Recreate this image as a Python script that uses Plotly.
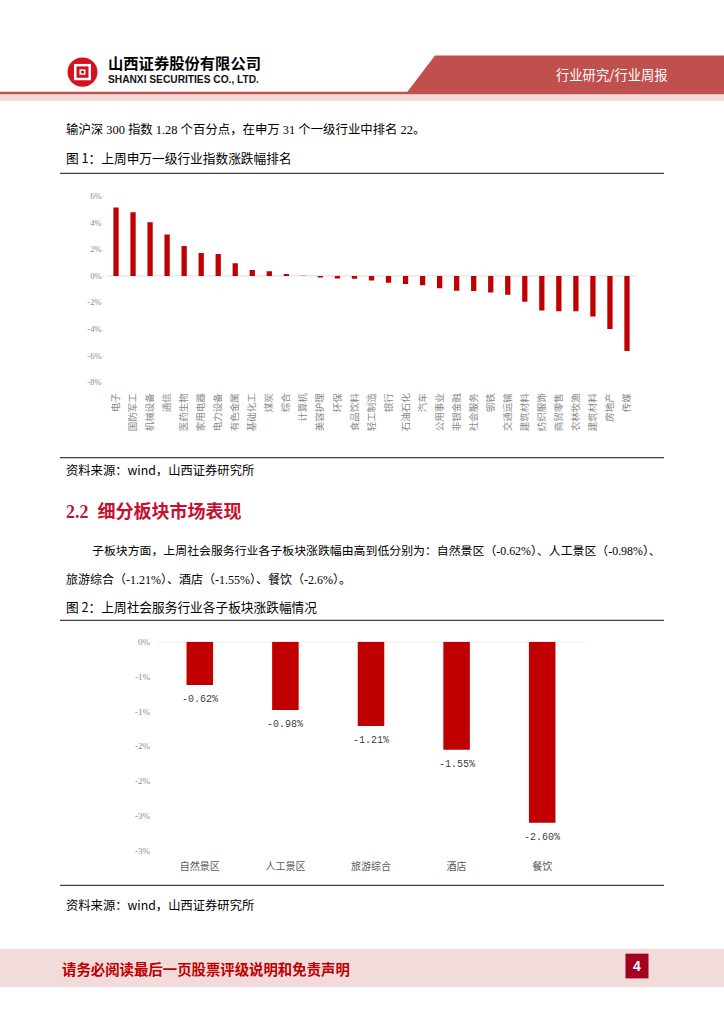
import plotly.graph_objects as go

W, H = 724, 1024

# ---------------- data ----------------
industries = ["电子", "国防军工", "机械设备", "通信", "医药生物", "家用电器", "电力设备",
              "有色金属", "基础化工", "煤炭", "综合", "计算机", "美容护理", "环保",
              "食品饮料", "轻工制造", "银行", "石油石化", "汽车", "公用事业", "非银金融",
              "社会服务", "钢铁", "交通运输", "建筑材料", "纺织服饰", "商贸零售",
              "农林牧渔", "建筑材料", "房地产", "传媒"]
industry_chg = [5.15, 4.78, 4.03, 3.11, 2.24, 1.72, 1.64, 0.95, 0.45, 0.35, 0.15, 0.02,
                -0.12, -0.20, -0.22, -0.35, -0.52, -0.60, -0.70, -0.92, -1.12, -1.14,
                -1.24, -1.42, -1.94, -2.61, -2.66, -2.66, -3.06, -4.00, -5.64]
y1_tickvals = [6, 4, 2, 0, -2, -4, -6, -8]
y1_ticktext = ["6%", "4%", "2%", "0%", "-2%", "-4%", "-6%", "-8%"]

sub_sectors = ["自然景区", "人工景区", "旅游综合", "酒店", "餐饮"]
sub_chg = [-0.62, -0.98, -1.21, -1.55, -2.60]
y2_tickvals = [0, -0.5, -1, -1.5, -2, -2.5, -3]
y2_ticktext = ["0%", "-1%", "-1%", "-2%", "-2%", "-3%", "-3%"]

BAR = "#C00000"


def fx(px):
    return px / W


def fy(py):
    return 1 - py / H


fig = go.Figure()

idx = list(range(len(industries)))
fig.add_trace(go.Bar(x=idx, y=industry_chg, marker=dict(color=BAR, line=dict(width=0)),
                     xaxis="x", yaxis="y", hoverinfo="skip", showlegend=False))
fig.add_trace(go.Bar(x=sub_sectors, y=sub_chg, marker=dict(color=BAR, line=dict(width=0)),
                     xaxis="x2", yaxis="y2", hoverinfo="skip", showlegend=False))

tick_font_num = dict(family="Liberation Serif, Noto Sans CJK SC", size=8.5, color="#8a8a8a")

fig.update_layout(
    width=W, height=H, margin=dict(l=0, r=0, t=0, b=0),
    paper_bgcolor="white", plot_bgcolor="rgba(0,0,0,0)",
    bargap=0.69, showlegend=False,
    xaxis=dict(domain=[fx(107.5), fx(635.5)], anchor="y", range=[-0.5, len(industries) - 0.5],
               tickmode="array", tickvals=idx, ticktext=industries, tickangle=-90,
               tickfont=dict(family="Noto Sans CJK SC", size=9.5, color="#8a8a8a"),
               showgrid=False, zeroline=False, showline=False, ticks="",
               ticklabelstandoff=8, fixedrange=True),
    yaxis=dict(domain=[fy(381), fy(193)], anchor="x", range=[-8, 6],
               tickmode="array", tickvals=y1_tickvals, ticktext=y1_ticktext,
               tickfont=tick_font_num, showgrid=False, zeroline=False, showline=False,
               ticks="", ticklabelstandoff=5, fixedrange=True),
    xaxis2=dict(domain=[fx(157), fx(585)], anchor="y2", range=[-0.5, len(sub_sectors) - 0.5],
                tickfont=dict(family="Noto Sans CJK SC", size=10, color="#595959"),
                showgrid=False, zeroline=False, showline=False, ticks="",
                ticklabelstandoff=8, fixedrange=True),
    yaxis2=dict(domain=[fy(854), fy(643)], anchor="x2", range=[-3, 0],
                tickmode="array", tickvals=y2_tickvals, ticktext=y2_ticktext,
                tickfont=dict(family="Liberation Serif, Noto Sans CJK SC", size=9, color="#8a8a8a"),
                showgrid=False, zeroline=False, showline=False, ticks="",
                ticklabelstandoff=6, fixedrange=True),
)

shapes = []
# zero lines
shapes.append(dict(type="line", xref="x domain", x0=0, x1=1, yref="y", y0=0, y1=0,
                   line=dict(color="#D9D9D9", width=1), layer="below"))
shapes.append(dict(type="line", xref="x2 domain", x0=0, x1=1, yref="y2", y0=0, y1=0,
                   line=dict(color="#D9D9D9", width=1), layer="below"))

# header trapezoid
shapes.append(dict(type="path", xref="paper", yref="paper",
                   path=f"M {fx(435)} {fy(51)} L {fx(724)} {fy(51)} L {fx(724)} {fy(88)} L {fx(407)} {fy(88)} Z",
                   fillcolor="#C0504D", line=dict(width=0)))
# header lines
shapes.append(dict(type="rect", xref="paper", yref="paper", x0=0, x1=1, y0=fy(90.5), y1=fy(87.5),
                   fillcolor="#C0504D", line=dict(width=0)))
shapes.append(dict(type="rect", xref="paper", yref="paper", x0=0, x1=1, y0=fy(97), y1=fy(90.5),
                   fillcolor="#F2DCDB", line=dict(width=0)))
# logo
shapes.append(dict(type="circle", xref="paper", yref="paper", x0=fx(67.5), x1=fx(97.5),
                   y0=fy(82.5), y1=fy(53), fillcolor="#D7101E", line=dict(width=0)))
shapes.append(dict(type="rect", xref="paper", yref="paper", x0=fx(74), x1=fx(91),
                   y0=fy(76), y1=fy(59.5), fillcolor="white", line=dict(width=0)))
shapes.append(dict(type="rect", xref="paper", yref="paper", x0=fx(76.5), x1=fx(88.5),
                   y0=fy(73.5), y1=fy(62), fillcolor="#D7101E", line=dict(width=0)))
shapes.append(dict(type="rect", xref="paper", yref="paper", x0=fx(79.5), x1=fx(85.5),
                   y0=fy(70.5), y1=fy(65), fillcolor="white", line=dict(width=0)))
shapes.append(dict(type="rect", xref="paper", yref="paper", x0=fx(81), x1=fx(84),
                   y0=fy(69), y1=fy(66.5), fillcolor="#D7101E", line=dict(width=0)))

# frame lines
for yy in [170, 457, 621.5, 889]:
    shapes.append(dict(type="line", xref="paper", yref="paper", x0=fx(60), x1=fx(664),
                       y0=fy(yy), y1=fy(yy), line=dict(color="#404040", width=1.3)))

# footer band
shapes.append(dict(type="rect", xref="paper", yref="paper", x0=0, x1=1, y0=fy(992), y1=fy(953),
                   fillcolor="#F2DCDB", line=dict(width=0)))
shapes.append(dict(type="rect", xref="paper", yref="paper", x0=fx(625.5), x1=fx(648.5),
                   y0=fy(983), y1=fy(958), fillcolor="#A50021", line=dict(width=0)))

fig.update_layout(shapes=shapes)

ann = []


def txt(x, y, s, size=12, color="black", family="Liberation Serif, Noto Sans CJK SC",
        xanchor="left", bold=False):
    ann.append(dict(xref="paper", yref="paper", x=fx(x), y=fy(y), text=(f"<b>{s}</b>" if bold else s),
                    showarrow=False, xanchor=xanchor, yanchor="middle",
                    font=dict(size=size, color=color, family=family)))


# header text
txt(106, 58, "山西证券股份有限公司", size=15.3, family="Noto Sans CJK SC", bold=True)
txt(106, 75.5, "SHANXI SECURITIES CO., LTD.", size=10.2, family="Liberation Sans", bold=True, color="#111111")
txt(612, 70, "行业研究/行业周报", size=13.3, color="white", family="Noto Sans CJK SC", xanchor="center")

# body text
txt(64, 126, "输沪深\u00a0300\u00a0指数\u00a01.28\u00a0个百分点，在申万\u00a031\u00a0个一级行业中排名\u00a022。", size=12.4)
txt(64, 153.5, "图 1：上周申万一级行业指数涨跌幅排名", size=12.7, family="Noto Sans CJK SC")
txt(64, 469.5, "资料来源：wind，山西证券研究所", size=12.3, family="Noto Sans CJK SC")
txt(64, 511, "2.2  细分板块市场表现", size=18, color="#C8102E",
    family="Liberation Serif, Noto Sans CJK SC", bold=True)
txt(90, 551, "子板块方面，上周社会服务行业各子板块涨跌幅由高到低分别为：自然景区（-0.62%）、人工景区（-0.98%）、",
    size=11.9)
txt(64, 580, "旅游综合（-1.21%）、酒店（-1.55%）、餐饮（-2.6%）。", size=12)
txt(64, 607, "图 2：上周社会服务行业各子板块涨跌幅情况", size=12.7, family="Noto Sans CJK SC")
txt(64, 909, "资料来源：wind，山西证券研究所", size=12.3, family="Noto Sans CJK SC")

# footer
txt(60, 973, "请务必阅读最后一页股票评级说明和免责声明", size=14.4, color="#C00000",
    family="Noto Sans CJK SC", bold=True)
txt(637, 970.5, "4", size=14, color="white", family="Liberation Sans", xanchor="center", bold=True)

# data labels for chart 2
for name, v in zip(sub_sectors, sub_chg):
    ann.append(dict(xref="x2", yref="y2", x=name, y=v, text=f"{v:.2f}%", showarrow=False,
                    xanchor="center", yanchor="top", yshift=-7,
                    font=dict(size=10, color="#404040", family="Liberation Mono")))

fig.update_layout(annotations=ann)

fig.write_html("out.html",
               config={"displayModeBar": False, "staticPlot": True},
               post_script="document.body.style.margin='0';document.body.style.padding='0';"
                           "document.body.style.overflow='hidden';"
                           "document.documentElement.style.overflow='hidden';")
